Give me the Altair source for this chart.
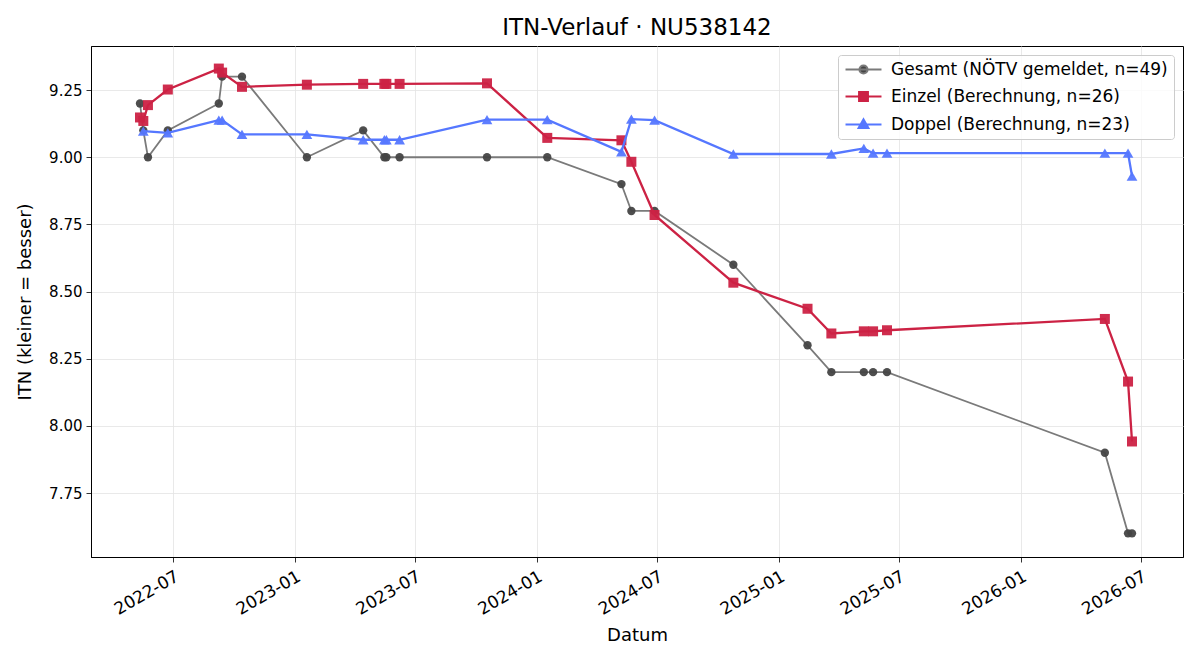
import altair as alt
import pandas as pd

# ITN history for player NU538142
series_names = [
    "Gesamt (NÖTV gemeldet, n=49)",
    "Einzel (Berechnung, n=26)",
    "Doppel (Berechnung, n=23)",
]

gesamt_dates = [
    "2022-05-12", "2022-05-17", "2022-05-24", "2022-06-23", "2022-09-08",
    "2022-09-13", "2022-10-13", "2023-01-19", "2023-04-14", "2023-05-16",
    "2023-05-19", "2023-06-08", "2023-10-18", "2024-01-17", "2024-05-08",
    "2024-05-23", "2024-06-27", "2024-10-24", "2025-02-13", "2025-03-21",
    "2025-05-09", "2025-05-23", "2025-06-13", "2026-05-08", "2026-06-12",
    "2026-06-18",
]
gesamt_itn = [
    9.2, 9.1, 9.0, 9.1, 9.2, 9.3, 9.3, 9.0, 9.1, 9.0, 9.0, 9.0, 9.0, 9.0,
    8.9, 8.8, 8.8, 8.6, 8.3, 8.2, 8.2, 8.2, 8.2, 7.9, 7.6, 7.6,
]

einzel_dates = [
    "2022-05-12", "2022-05-17", "2022-05-24", "2022-06-23", "2022-09-08",
    "2022-09-13", "2022-10-13", "2023-01-19", "2023-04-14", "2023-05-16",
    "2023-05-19", "2023-06-08", "2023-10-18", "2024-01-17", "2024-05-08",
    "2024-05-23", "2024-06-27", "2024-10-24", "2025-02-13", "2025-03-21",
    "2025-05-09", "2025-05-23", "2025-06-13", "2026-05-08", "2026-06-12",
    "2026-06-18",
]
einzel_itn = [
    9.148, 9.135, 9.194, 9.252, 9.330, 9.315, 9.262, 9.270, 9.273, 9.273,
    9.273, 9.273, 9.275, 9.072, 9.063, 8.983, 8.785, 8.533, 8.436, 8.344,
    8.352, 8.352, 8.356, 8.398, 8.165, 7.942,
]

doppel_dates = [
    "2022-05-17", "2022-06-23", "2022-09-08", "2022-09-13", "2022-10-13",
    "2023-01-19", "2023-04-14", "2023-05-16", "2023-05-19", "2023-06-08",
    "2023-10-18", "2024-01-17", "2024-05-08", "2024-05-23", "2024-06-27",
    "2024-10-24", "2025-03-21", "2025-05-09", "2025-05-23", "2025-06-13",
    "2026-05-08", "2026-06-12", "2026-06-18",
]
doppel_itn = [
    9.097, 9.091, 9.138, 9.138, 9.085, 9.085, 9.065, 9.065, 9.065, 9.065,
    9.140, 9.140, 9.020, 9.142, 9.138, 9.012, 9.012, 9.033, 9.015, 9.015,
    9.015, 9.015, 8.930,
]

x_tick_dates = [(2022, 7), (2023, 1), (2023, 7), (2024, 1), (2024, 7),
                (2025, 1), (2025, 7), (2026, 1), (2026, 7)]
y_ticks = [7.75, 8.00, 8.25, 8.50, 8.75, 9.00, 9.25]

line_colors = ["#7a7a7a", "#cc2244", "#5577ff"]
point_colors = ["#444444", "#cc2244", "#5577ff"]
line_widths = [1.8, 2.3, 2.3]
point_shapes = ["circle", "square", "triangle-up"]
point_sizes = [70, 100, 115]

# legend glyphs: a short line segment with the series marker in the middle
legend_glyphs = [
    "M-2.57,0L2.57,0M-0.57,0A0.57,0.57,0,1,1,0.57,0A0.57,0.57,0,1,1,-0.57,0Z",
    "M-2.57,0L2.57,0M-0.62,-0.62L0.62,-0.62L0.62,0.62L-0.62,0.62Z",
    "M-2.57,0L2.57,0M0,-0.72L0.68,0.5L-0.68,0.5Z",
]

frames = []
for name, dates, vals in [
    (series_names[0], gesamt_dates, gesamt_itn),
    (series_names[1], einzel_dates, einzel_itn),
    (series_names[2], doppel_dates, doppel_itn),
]:
    frames.append(pd.DataFrame({"Datum": dates, "ITN": vals, "Serie": name}))
df = pd.concat(frames, ignore_index=True)

FONT = "DejaVu Sans"

x_enc = alt.X(
    "Datum:T",
    title="Datum",
    scale=alt.Scale(domain=[alt.DateTime(year=2022, month=2, date=27),
                            alt.DateTime(year=2026, month=9, date=3)]),
    axis=alt.Axis(
        values=[alt.DateTime(year=y, month=m, date=1) for y, m in x_tick_dates],
        format="%Y-%m",
        labelAngle=-30,
        labelAlign="right",
        labelBaseline="top",
        labelFontSize=17,
        labelPadding=6,
        titlePadding=9,
    ),
)
y_enc = alt.Y(
    "ITN:Q",
    title="ITN  (kleiner = besser)",
    scale=alt.Scale(domain=[7.512, 9.414], nice=False, zero=False),
    axis=alt.Axis(values=y_ticks, format=".2f", labelPadding=4, titlePadding=14),
)

layers = []
for i, name in enumerate(series_names):
    sub = df[df["Serie"] == name]
    base = alt.Chart(sub).encode(x=x_enc, y=y_enc)
    layers.append(
        base.mark_line(color=line_colors[i], strokeWidth=line_widths[i])
    )
    layers.append(
        base.mark_point(
            filled=True,
            shape=point_shapes[i],
            size=point_sizes[i],
            color=point_colors[i],
            opacity=0.95,
        )
    )

# layer without visible marks that only carries the legend
legend_layer = alt.Chart(alt.Data(values=[{"Serie": series_names[0], "ITN": 9.0}])).transform_filter(
    "datum.ITN > 100"
).mark_point(filled=True, strokeWidth=2, opacity=1).encode(
    y=alt.Y("ITN:Q"),
    fill=alt.Fill("Serie:N", scale=alt.Scale(domain=series_names, range=point_colors),
                  legend=alt.Legend(title=None)),
    stroke=alt.Stroke("Serie:N", scale=alt.Scale(domain=series_names, range=line_colors),
                      legend=alt.Legend(title=None)),
    shape=alt.Shape("Serie:N", scale=alt.Scale(domain=series_names, range=legend_glyphs),
                    legend=alt.Legend(title=None)),
)

chart = alt.layer(*layers, legend_layer).properties(
    width=1092,
    height=511,
    autosize=alt.AutoSizeParams(type="none"),
    padding={"left": 91, "top": 46, "right": 17, "bottom": 103},
    background="white",
    title=alt.TitleParams(
        "ITN-Verlauf · NU538142",
        font=FONT,
        fontSize=23,
        fontWeight="normal",
        color="black",
        anchor="middle",
        frame="group",
        baseline="alphabetic",
        offset=10,
        dy=22,
    ),
).configure_view(
    stroke="black", strokeWidth=1
).configure_axis(
    labelFont=FONT,
    labelFontSize=15,
    labelColor="black",
    titleFont=FONT,
    titleFontSize=18,
    titleFontWeight="normal",
    titleColor="black",
    domainColor="black",
    domainWidth=1,
    tickColor="black",
    tickSize=5,
    tickWidth=0.8,
    gridColor="#e3e3e3",
    gridWidth=0.8,
).configure_legend(
    orient="top-right",
    offset=9,
    labelFont=FONT,
    labelFontSize=17,
    labelColor="black",
    symbolSize=196,
    symbolStrokeWidth=2.2,
    symbolOffset=11,
    labelOffset=19,
    rowPadding=9,
    padding=6,
    fillColor="rgba(255,255,255,0.8)",
    strokeColor="#cccccc",
    cornerRadius=3,
    labelLimit=400,
)

chart.save("out.html", embed_options={"renderer": "svg", "actions": False})
